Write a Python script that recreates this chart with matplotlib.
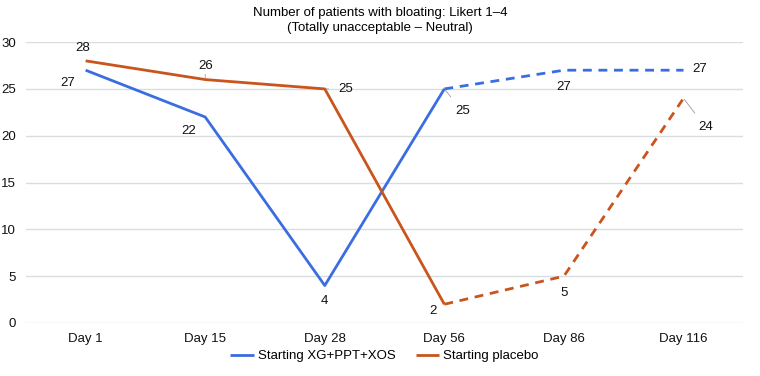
import matplotlib.pyplot as plt

days = ["Day 1", "Day 15", "Day 28", "Day 56", "Day 86", "Day 116"]
xg_ppt_xos = [27, 22, 4, 25, 27, 27]
placebo = [28, 26, 25, 2, 5, 24]

title = "Number of patients with bloating: Likert 1\u20134\n(Totally unacceptable \u2013 Neutral)"
blue = "#3a6ee0"
orange = "#c9551d"

# label offsets in points (dx, dy), and whether a leader line is drawn
blue_offsets = [(-13, -9), (-12, -10), (0, -11), (13, -16), (0, -12), (12, 1)]
blue_leaders = [False, False, False, True, False, False]
orange_offsets = [(-2, 9), (0, 10), (15, 0), (-8, -5), (0, -12), (16, -21)]
orange_leaders = [False, True, True, False, False, True]

plt.rcParams['font.family'] = ['Liberation Sans', 'DejaVu Sans']
fig = plt.figure(figsize=(7.6, 3.76), dpi=100)
ax = fig.add_axes([0.034, 0.141, 0.944, 0.747])

x = list(range(len(days)))
split = 3
for vals, color, label in [(xg_ppt_xos, blue, "Starting XG+PPT+XOS"), (placebo, orange, "Starting placebo")]:
    ax.plot(x[:split + 1], vals[:split + 1], color=color, lw=2, label=label, solid_capstyle='butt')
    ax.plot(x[split:], vals[split:], color=color, lw=2, ls=(0, (3.2, 2.4)))

for vals, offs, leads in [(xg_ppt_xos, blue_offsets, blue_leaders), (placebo, orange_offsets, orange_leaders)]:
    for i, v in enumerate(vals):
        dx, dy = offs[i]
        props = dict(arrowstyle='-', color='#9a9a9a', lw=0.6, shrinkA=5, shrinkB=1) if leads[i] else None
        ax.annotate(str(v), (i, v), xytext=(dx, dy), textcoords='offset points',
                    ha='center', va='center', fontsize=9.5, color='#111111', arrowprops=props)

ax.set_xlim(-0.5, len(days) - 0.5)
ax.set_ylim(0, 30)
ax.set_yticks(range(0, 31, 5))
ax.set_xticks(x)
ax.set_xticklabels(days)
ax.yaxis.grid(True, color='#d8dde0', lw=1)
ax.set_axisbelow(True)
for s in ax.spines.values():
    s.set_visible(False)
ax.tick_params(length=0, labelsize=9.5, colors='#111111')
ax.tick_params(axis='x', pad=7)
ax.tick_params(axis='y', pad=7)

fig.suptitle(title, y=0.982, fontsize=9.5, linespacing=1.4)
ax.legend(loc='center', bbox_to_anchor=(0.5, -0.118), ncol=2, frameon=False,
          fontsize=9.5, handlelength=1.8, handletextpad=0.3, columnspacing=1.5)

fig.savefig("out.png", dpi=100)
